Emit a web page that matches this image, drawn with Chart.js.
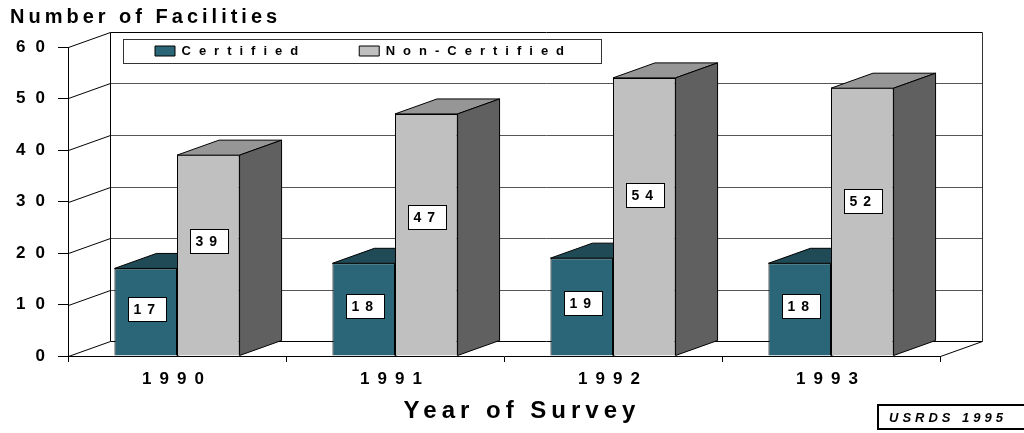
<!DOCTYPE html>
<html>
<head>
<meta charset="utf-8">
<script src="https://cdn.jsdelivr.net/npm/chart.js@4.4.1/dist/chart.umd.min.js"></script>
<style>
  html, body { margin: 0; padding: 0; background: #ffffff; }
  #wrap { width: 1024px; height: 433px; }
</style>
</head>
<body>
<div id="wrap"><canvas id="c" width="1024" height="433"></canvas></div>
<script>
// ---- data ----
const categories = ['1990', '1991', '1992', '1993'];
const certified = [17, 18, 19, 18];
const nonCertified = [39, 47, 54, 52];
const seriesNames = ['Certified', 'Non-Certified'];
const yTickValues = [0, 10, 20, 30, 40, 50, 60];
const chartTitle = 'Number of Facilities';
const xTitle = 'Year of Survey';
const sourceNote = 'USRDS 1995';

// ---- style ----
const FONT = "'Liberation Sans', Arial, Helvetica, sans-serif";
const DX = 42, DY = -15;           // 3D depth offset
Chart.defaults.font.family = FONT;
Chart.defaults.color = '#000';

function spaced(obj, name, spacing, dx) {
  if (!obj || !obj[name] || obj[name].__spaced) return;
  const orig = obj[name];
  const w = function (...args) {
    const c = this.ctx;
    c.save();
    c.letterSpacing = spacing;
    if (dx) c.translate(dx, 0);
    try { return orig.apply(this, args); }
    finally { c.restore(); }
  };
  w.__spaced = true;
  obj[name] = w;
}

function poly(ctx, pts, fill) {
  ctx.beginPath();
  ctx.moveTo(pts[0][0], pts[0][1]);
  for (let i = 1; i < pts.length; i++) ctx.lineTo(pts[i][0], pts[i][1]);
  ctx.closePath();
  ctx.fillStyle = fill;
  ctx.fill();
  ctx.strokeStyle = '#000';
  ctx.lineWidth = 1;
  ctx.stroke();
}
function line(ctx, x1, y1, x2, y2, color) {
  ctx.beginPath();
  ctx.moveTo(x1, y1); ctx.lineTo(x2, y2);
  ctx.strokeStyle = color; ctx.lineWidth = 1; ctx.stroke();
}
function drawDepthFaces(chart, index) {
  const ctx = chart.ctx;
  const ds = chart.data.datasets[index];
  const meta = chart.getDatasetMeta(index);
  ctx.save();
  meta.data.forEach(bar => {
    const p = bar.getProps(['x', 'y', 'base', 'width'], true);
    const l = p.x - p.width / 2, r = p.x + p.width / 2;
    poly(ctx, [[l, p.y], [r, p.y], [r + DX, p.y + DY], [l + DX, p.y + DY]], ds.topColor);
    poly(ctx, [[r, p.y], [r + DX, p.y + DY], [r + DX, p.base + DY], [r, p.base]], ds.sideColor);
  });
  ctx.restore();
}

const depthPlugin = {
  id: 'depth3d',
  afterInit(chart) {
    spaced(chart.legend, 'fit', '8px');
    spaced(chart.legend, 'draw', '8px');
    spaced(chart.titleBlock, 'draw', '4px');
  },
  afterLayout(chart) {
    const lg = chart.legend, a = chart.chartArea;
    const pad = lg.options.labels.padding;
    lg.left = a.left + DX + 45 - pad;
    lg.top = a.top + DY + 19 - 6.5 - pad;
    lg.right = lg.left + 900;
    lg.bottom = lg.top + 200;
  },
  beforeDraw(chart) {
    spaced(chart.scales.x, 'drawLabels', '8px');
    spaced(chart.scales.y, 'drawLabels', '10px');
    spaced(chart.scales.x, 'drawTitle', '5px', 18);
  },
  beforeDatasetsDraw(chart) {
    const ctx = chart.ctx, a = chart.chartArea, ys = chart.scales.y;
    ctx.save();
    const topY = Math.round(ys.getPixelForValue(ys.max)) + 0.5;
    const botY = Math.round(ys.getPixelForValue(ys.min)) + 0.5;
    const L = Math.round(a.left) + 0.5, R = Math.round(a.right) + 0.5;
    ys.ticks.forEach(t => {
      const py = Math.round(ys.getPixelForValue(t.value)) + 0.5;
      line(ctx, L, py, L + DX, py + DY, '#000');
      line(ctx, L + DX, py + DY, R + DX, py + DY,
        (t.value === ys.min || t.value === ys.max) ? '#000' : '#555');
    });
    line(ctx, L + DX, topY + DY, L + DX, botY + DY, '#000');
    line(ctx, R + DX, topY + DY, R + DX, botY + DY, '#333');
    line(ctx, R, botY, R + DX, botY + DY, '#000');
    // legend frame
    const hb = chart.legend.legendHitBoxes;
    if (hb && hb.length) {
      const last = hb[hb.length - 1];
      const x1 = Math.round(hb[0].left - 32) + 0.5;
      const x2 = Math.round(last.left + last.width + 29) + 0.5;
      const y1 = Math.round(hb[0].top + hb[0].height / 2 - 12) + 0.5;
      ctx.strokeStyle = '#333';
      ctx.lineWidth = 1;
      ctx.strokeRect(x1, y1, x2 - x1, 24);
    }
    ctx.restore();
    // depth faces of the first series sit behind the second series' fronts
    drawDepthFaces(chart, 0);
  },
  afterDatasetDraw(chart, args) {
    if (args.index !== 0) drawDepthFaces(chart, args.index);
  },
  afterDatasetsDraw(chart) {
    const ctx = chart.ctx, ys = chart.scales.y;
    ctx.save();
    ctx.font = 'bold 14px ' + FONT;
    ctx.letterSpacing = '6px';
    ctx.textBaseline = 'middle';
    ctx.textAlign = 'left';
    chart.data.datasets.forEach((ds, di) => {
      const meta = chart.getDatasetMeta(di);
      meta.data.forEach((bar, i) => {
        const v = ds.data[i];
        const txt = String(v);
        const tw = ctx.measureText(txt).width;
        const bw = Math.round(tw + 10), bh = 24;
        const cy = ys.getPixelForValue(v * 0.6) + 6;
        const x0 = Math.round(bar.x - bw / 2 + 1) + 0.5;
        const y0 = Math.round(cy - bh / 2) + 0.5;
        ctx.fillStyle = '#fff';
        ctx.fillRect(x0, y0, bw, bh);
        ctx.strokeStyle = '#000';
        ctx.lineWidth = 1;
        ctx.strokeRect(x0, y0, bw, bh);
        ctx.fillStyle = '#000';
        ctx.fillText(txt, x0 + 5, y0 + bh / 2 + 1);
      });
    });
    ctx.restore();
  },
  afterDraw(chart) {
    const ctx = chart.ctx;
    ctx.save();
    const bx = chart.width - 146, by = chart.height - 28;
    ctx.strokeStyle = '#000';
    ctx.lineWidth = 2;
    ctx.strokeRect(bx, by, 150, 24);
    ctx.font = 'italic bold 13px ' + FONT;
    ctx.letterSpacing = '4px';
    ctx.fillStyle = '#000';
    ctx.textBaseline = 'middle';
    ctx.fillText(sourceNote, bx + 11, by + 13);
    ctx.restore();
  }
};

new Chart(document.getElementById('c'), {
  type: 'bar',
  data: {
    labels: categories,
    datasets: [
      { label: seriesNames[0], data: certified, backgroundColor: '#2a6677', borderColor: '#000',
        borderWidth: 1, topColor: '#1f4a56', sideColor: '#173a44' },
      { label: seriesNames[1], data: nonCertified, backgroundColor: '#c0c0c0', borderColor: '#000',
        borderWidth: 1, topColor: '#969696', sideColor: '#606060' }
    ]
  },
  options: {
    responsive: false,
    animation: false,
    devicePixelRatio: 1,
    events: [],
    layout: { padding: { left: 10, right: 84, top: 0, bottom: 0 } },
    datasets: { bar: { categoryPercentage: 0.574, barPercentage: 1 } },
    plugins: {
      tooltip: { enabled: false },
      title: {
        display: true, text: chartTitle, align: 'start', color: '#000',
        font: { size: 20, weight: 'bold' }, padding: { top: 5, bottom: 17 }
      },
      legend: {
        display: true, position: 'top', align: 'start', maxHeight: 1,
        labels: {
          color: '#000', font: { size: 13, weight: 'bold' },
          boxWidth: 20, boxHeight: 10, padding: 53
        }
      }
    },
    scales: {
      x: {
        offset: true,
        grid: { display: true, drawOnChartArea: false, offset: true, tickLength: 6, color: '#000' },
        border: { display: true, color: '#000' },
        ticks: { font: { size: 17, weight: 'bold' }, color: '#000', padding: 7, maxRotation: 0 },
        title: { display: true, text: xTitle, color: '#000', font: { size: 24, weight: 'bold' },
                 padding: { top: 0, bottom: 7 } },
        afterFit(s) { s.height = 77; }
      },
      y: {
        min: 0, max: 60,
        afterBuildTicks(s) { s.ticks = yTickValues.map(v => ({ value: v })); },
        grid: { display: true, drawOnChartArea: false, tickLength: 10, color: '#000' },
        border: { display: true, color: '#000' },
        ticks: { font: { size: 17, weight: 'bold' }, color: '#000', padding: 3 },
        afterFit(s) { s.width = 58; }
      }
    }
  },
  plugins: [depthPlugin]
});
</script>
</body>
</html>
